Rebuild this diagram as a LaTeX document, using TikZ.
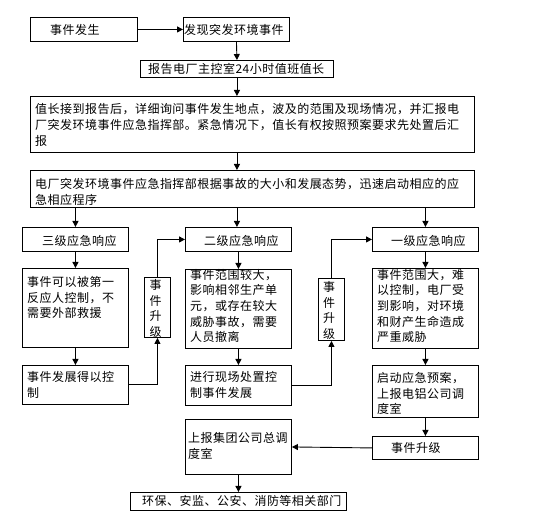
\documentclass[tikz,border=0pt]{standalone}
\usepackage{fontspec}
\setmainfont{Noto Sans CJK SC}[LetterSpace=4]
\usetikzlibrary{arrows.meta}
\newcommand\mybox[5]{\node[box,anchor=north west,minimum width={(#4-#2)*1pt},minimum height={(#5-#3)*1pt}] (#1) at (#2,#3) {};}
\begin{document}
\begin{tikzpicture}[x=1pt,y=-1pt,
  box/.style={draw,line width=0.9pt,inner sep=0pt,rectangle},
  txt/.style={inner sep=0pt,anchor=west,align=left,font=\fontsize{12}{15.6}\selectfont},
  vtxt/.style={inner sep=0pt,align=center,font=\fontsize{12}{15.8}\selectfont},
  arr/.style={line width=0.9pt,-{Triangle[width=6pt,length=6pt]}}]
\useasboundingbox (0,0) rectangle (560,518);
% boxes
\mybox{b1}{30}{17}{137}{41}
\mybox{b2}{183}{17}{289}{41}
\mybox{b3}{140}{60}{333}{77}
\mybox{b4}{30}{96}{474}{152}
\mybox{b5}{30}{170}{474}{207}
\mybox{l3}{22}{227}{128}{251}
\mybox{l2}{185}{227}{291}{251}
\mybox{l1}{372}{227}{478}{251}
\mybox{d3}{22}{268}{128}{347}
\mybox{d2}{185}{269}{291}{348}
\mybox{d1}{372}{268}{478}{348}
\mybox{u1}{144}{277}{170}{337}
\mybox{u2}{318}{278}{344}{340}
\mybox{c3}{22}{365}{128}{404}
\mybox{c2}{185}{365}{291}{405}
\mybox{c1}{372}{365}{478}{417}
\mybox{e1}{372}{436}{478}{459}
\mybox{g}{185}{419}{291}{474}
\mybox{f}{130}{492}{346}{510}
% texts
\node[txt] (tb1) at (50,30) {事件发生};
\node[txt] (tb2) at (184,30) {发现突发环境事件};
\node[txt] (tb3) at (148,69) {报告电厂主控室24小时值班值长};
\node[txt] (tb4) at (35,125) {值长接到报告后，详细询问事件发生地点，波及的范围及现场情况，并汇报电\\厂突发环境事件应急指挥部。紧急情况下，值长有权按照预案要求先处置后汇\\报};
\node[txt] (tb5) at (35,192) {电厂突发环境事件应急指挥部根据事故的大小和发展态势，迅速启动相应的应\\急相应程序};
\node[txt] (tl3) at (42,241) {三级应急响应};
\node[txt] (tl2) at (204,241) {二级应急响应};
\node[txt] (tl1) at (391,241) {一级应急响应};
\node[txt] (td3) at (27,297.5) {事件可以被第一\\反应人控制，不\\需要外部救援};
\node[txt] (td2) at (190,306) {事件范围较大，\\影响相邻生产单\\元，或存在较大\\威胁事故，需要\\人员撤离};
\node[txt] (td1) at (377,306) {事件范围大，难\\以控制，电厂受\\到影响，对环境\\和财产生命造成\\严重威胁};
\node[vtxt] (tu1) at (155.5,308.5) {事\\件\\升\\级};
\node[vtxt] (tu2) at (329,310.5) {事\\件\\升\\级};
\node[txt] (tc3) at (27,385) {事件发展得以控\\制};
\node[txt] (tc2) at (190,385) {进行现场处置控\\制事件发展};
\node[txt] (tc1) at (377,393.5) {启动应急预案，\\上报电铝公司调\\度室};
\node[txt] (te1) at (391,448) {事件升级};
\node[txt] (tg) at (188,446) {上报集团公司总调\\度室};
\node[txt] (tf) at (142,501) {环保、安监、公安、消防等相关部门};
% connectors
\draw[arr] (b1.east) -- (b2.west);
\draw[arr] (b2.south) -- (b3.north);
\draw[arr] (b3.south) -- (b4.north -| b3.south);
\draw[arr] (b4.south -| b3.south) -- (b5.north -| b3.south);
\draw[arr] (l3.north |- b5.south) -- (l3.north);
\draw[arr] (b5.south -| b3.south) -- (l2.north -| b3.south);
\draw[arr] (l1.north |- b5.south) -- (l1.north);
\draw[arr] (l3.south) -- (d3.north);
\draw[arr] (l2.south) -- (d2.north);
\draw[arr] (l1.south) -- (d1.north);
\draw[arr] (d3.south) -- (c3.north);
\draw[arr] (d2.south) -- (c2.north);
\draw[arr] (d1.south) -- (c1.north);
\draw[arr] (c1.south) -- (e1.north);
\draw[arr] (c3.east) -| (u1.south);
\draw[arr] (u1.north) |- (l2.west);
\draw[arr] (c2.east) -| (u2.south);
\draw[arr] (u2.north) |- (l1.west);
\draw[arr] (e1.west) -- (g.east);
\draw[arr] (g.south) -- (f.north);
\end{tikzpicture}
\end{document}
